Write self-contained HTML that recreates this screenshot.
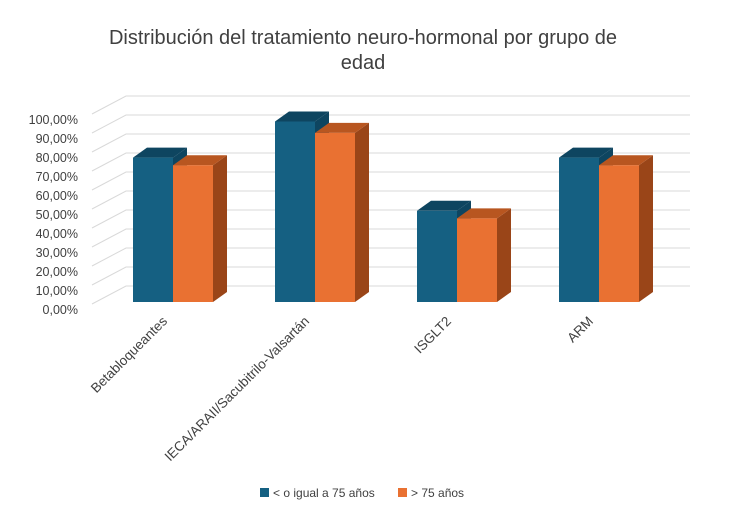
<!DOCTYPE html>
<html><head><meta charset="utf-8"><style>
body{margin:0;background:#fff;}
svg text{font-family:"Liberation Sans",sans-serif;}
</style></head><body>
<svg width="750" height="525" viewBox="0 0 750 525">
<text x="363" y="44" text-anchor="middle" font-size="20" fill="#404040">Distribución del tratamiento neuro-hormonal por grupo de</text>
<text x="363" y="69" text-anchor="middle" font-size="20" fill="#404040">edad</text>
<g id="grid"></g><g id="bars"></g><g id="labels"></g>
<g>
<rect x="260" y="488" width="9" height="9" fill="#156082"/>
<text x="273" y="497" font-size="12" fill="#404040">&lt; o igual a 75 años</text>
<rect x="398" y="488" width="9" height="9" fill="#E97132"/>
<text x="411" y="497" font-size="12" fill="#404040">&gt; 75 años</text>
</g>
</svg>
<script>
const categories=["Betabloqueantes","IECA/ARAII/Sacubitrilo-Valsartán","ISGLT2","ARM"];
const seriesLe75=[0.76,0.95,0.48,0.76];
const seriesGt75=[0.72,0.89,0.44,0.72];
const tickLabels=["0,00%","10,00%","20,00%","30,00%","40,00%","50,00%","60,00%","70,00%","80,00%","90,00%","100,00%"];
const NS="http://www.w3.org/2000/svg";
const y0=302,H=190,dx=34,dy=-18;
function yScale(v){return y0-v*H;}
function xGroup(i){return 133+i*142;}
function mk(t,a,p){const e=document.createElementNS(NS,t);for(const k in a)e.setAttribute(k,a[k]);p.appendChild(e);return e;}
const grid=document.getElementById('grid');
tickLabels.forEach((l,i)=>{
  const v=i/10,y=yScale(v);
  const ln=mk('polyline',{points:`92,${y+2} ${92+dx},${y+dy+2} 690,${y+dy+2}`,fill:'none',stroke:'#d9d9d9','stroke-width':1},grid);
  
  
  const t=mk('text',{x:78,y:y+12,'text-anchor':'end','font-size':12.5,fill:'#404040'},grid);
  t.textContent=l;
  
  
});
const bars=document.getElementById('bars');
function bar(x,v,front,top,side,name){
  const g=mk('g',{},bars);
  
  
  const yt=yScale(v),w=40,ox=14,oy=-10;
  mk('polygon',{points:`${x+w},${yt} ${x+w+ox},${yt+oy} ${x+w+ox},${y0+oy} ${x+w},${y0}`,fill:side},g);
  mk('polygon',{points:`${x},${yt} ${x+ox},${yt+oy} ${x+w+ox},${yt+oy} ${x+w},${yt}`,fill:top},g);
  mk('rect',{x:x,y:yt,width:w,height:y0-yt,fill:front},g);
}
const labels=document.getElementById('labels');
categories.forEach((c,i)=>{
  const x=xGroup(i);
  bar(x,seriesLe75[i],'#156082','#0E4560','#0E4560','bar-le75-'+i);
  bar(x+40,seriesGt75[i],'#E97132','#B85620','#9A4518','bar-gt75-'+i);
  const t=mk('text',{x:x+35,y:322,'text-anchor':'end','font-size':13.5,fill:'#404040',transform:`rotate(-45 ${x+35} 322)`},labels);
  t.textContent=c;
  
  
});
</script>
</body></html>
